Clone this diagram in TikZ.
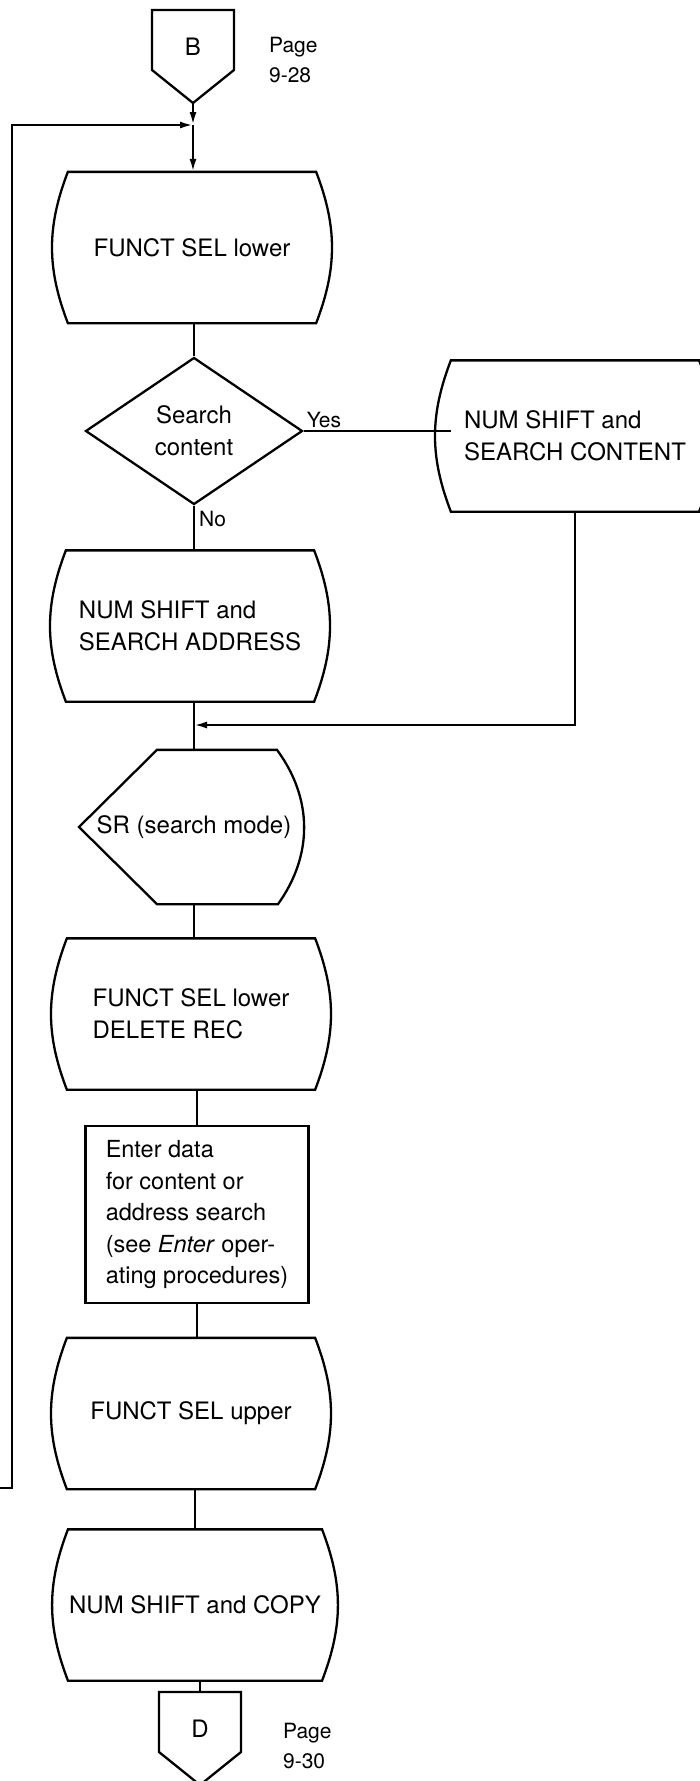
\documentclass[tikz,border=0pt]{standalone}
\usepackage{fontspec}
\setmainfont{TeX Gyre Heros}
\usetikzlibrary{shapes.geometric,arrows.meta}

\tikzset{
  txt/.style={font=\fontsize{24}{32}\selectfont, inner sep=0pt, align=left},
  keybox/.style={txt, minimum width=246pt, minimum height=149pt},
  decision/.style={txt, align=center, draw, diamond, minimum width=217pt, minimum height=147pt},
  procbox/.style={txt, draw, font=\fontsize{23.5}{31.5}\selectfont, minimum width=223pt, minimum height=177pt},
  lbl/.style={font=\fontsize{21}{30}\selectfont, inner sep=2pt, align=left},
}

% outline with bulging sides
\newcommand{\keyoutline}[1]{%
  \draw (#1.north west) to[bend right=21] (#1.south west) -- (#1.south east)
    to[bend right=21] (#1.north east) -- cycle;}
% display symbol
\newcommand{\displayoutline}[1]{%
  \draw ([xshift=-115pt]#1.center) -- ([xshift=-37pt]#1.north) -- ([xshift=83pt]#1.north)
    to[bend left=36] ([xshift=84pt]#1.south) -- ([xshift=-37pt]#1.south) -- cycle;}
% off-page connector
\newcommand{\offpageoutline}[1]{%
  \coordinate (#1-top) at ([yshift=37pt]#1.center);
  \coordinate (#1-tip) at ([yshift=-56pt]#1.center);
  \draw ([xshift=-41pt]#1-top) -- ([xshift=41pt]#1-top) -- ([shift={(41pt,-23pt)}]#1.center)
    -- (#1-tip) -- ([shift={(-41pt,-23pt)}]#1.center) -- cycle;}

\begin{document}
\begin{tikzpicture}[x=1pt, y=1pt, line width=2.3pt, >={Latex[length=13pt,width=7pt]}]
  \useasboundingbox (0,0) rectangle (700,-1781);

  % entry from page 9-28
  \node[txt] (offb) at (193,-47) {B};
  \offpageoutline{offb}
  \node[lbl, anchor=west] (pageb) at (266,-60) {Page\\9-28};
  \coordinate (join) at (193,-125);

  \node[keybox] (fsl) at (192,-247.5) {FUNCT SEL lower};
  \keyoutline{fsl}
  \node[decision] (dec) at (194,-431) {Search\\content};
  \node[keybox] (nsc) at (575,-436) {NUM SHIFT and\\SEARCH CONTENT};
  \keyoutline{nsc}
  \node[keybox] (nsa) at (190,-626) {NUM SHIFT and\\SEARCH ADDRESS};
  \keyoutline{nsa}
  \coordinate (merge) at (194,-725);
  \node[txt, minimum height=152pt] (disp) at (194,-827) {SR (search mode)};
  \displayoutline{disp}
  \node[keybox] (fsd) at (191,-1014) {FUNCT SEL lower\\DELETE REC};
  \keyoutline{fsd}
  \node[procbox] (enter) at (197,-1214.5) {Enter data\\for content or\\address search\\(see \textit{Enter} oper-\\ating procedures)};
  \node[keybox] (fsu) at (191,-1413.5) {FUNCT SEL upper};
  \keyoutline{fsu}
  \node[keybox] (nsy) at (195,-1605) {NUM SHIFT and COPY};
  \keyoutline{nsy}

  % exit to page 9-30
  \node[txt] (offd) at (200,-1729) {D};
  \offpageoutline{offd}
  \node[lbl, anchor=west] (paged) at (280,-1746) {Page\\9-30};

  % connectors
  \draw[->] (offb-tip) -- (join);
  \coordinate (loopin) at (0,-1488);
  \draw[->] (loopin) -- ++(12,0) |- (join);
  \draw[->] (join) -- (join |- fsl.north);
  \draw (dec.north |- fsl.south) -- (dec.north);
  \draw (dec.east) -- (dec.east -| nsc.west);
  \node[lbl, anchor=south west] (yes) at (dec.east) {Yes};
  \draw (dec.south) -- (dec.south |- nsa.north);
  \node[lbl, anchor=north west, inner sep=4pt] (no) at (dec.south) {No};
  \draw[->] (nsc.south) |- (merge);
  \draw (disp.north |- nsa.south) -- (disp.north);
  \draw (disp.south) -- (disp.south |- fsd.north);
  \draw (enter.north |- fsd.south) -- (enter.north);
  \draw (enter.south) -- (enter.south |- fsu.north);
  \draw (nsy.north |- fsu.south) -- (nsy.north);
  \draw (offd-top |- nsy.south) -- (offd-top);
\end{tikzpicture}
\end{document}
